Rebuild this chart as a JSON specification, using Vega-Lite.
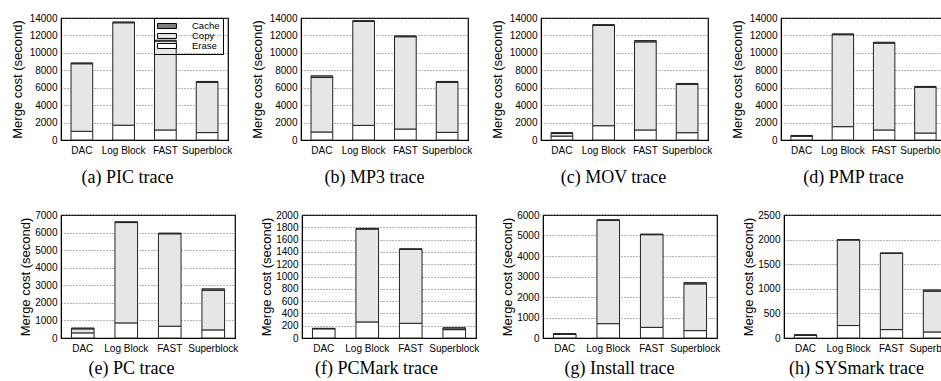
{
  "$schema": "https://vega.github.io/schema/vega-lite/v6.json",
  "padding": {"left": 10, "top": 12, "right": 0, "bottom": 0},
  "background": "white",
  "config": {
    "font": "Liberation Sans",
    "view": {"stroke": "black", "strokeWidth": 1.2},
    "axis": {"labelFontSize": 10, "labelColor": "black", "titleColor": "black", "titleFontWeight": "normal", "domainColor": "black", "ticks": false},
    "axisX": {"labelAngle": 0, "labelPadding": 5, "titleFont": "Liberation Serif", "titleFontSize": 18, "grid": false, "titleAlign": "center"},
    "axisY": {"labelPadding": 4, "titleFontSize": 13, "titlePadding": 5, "grid": true, "gridDash": [1, 2], "gridColor": "#666", "format": "d"},
    "bar": {"stroke": "#222", "strokeWidth": 1}
  },
  "datasets": {
    "d": [
      {"p": "PIC", "b": "DAC", "t": "Erase", "v": 1000}, {"p": "PIC", "b": "DAC", "t": "Copy", "v": 7750}, {"p": "PIC", "b": "DAC", "t": "Cache", "v": 100},
      {"p": "PIC", "b": "Log Block", "t": "Erase", "v": 1700}, {"p": "PIC", "b": "Log Block", "t": "Copy", "v": 11750}, {"p": "PIC", "b": "Log Block", "t": "Cache", "v": 100},
      {"p": "PIC", "b": "FAST", "t": "Erase", "v": 1150}, {"p": "PIC", "b": "FAST", "t": "Copy", "v": 10200}, {"p": "PIC", "b": "FAST", "t": "Cache", "v": 100},
      {"p": "PIC", "b": "Superblock", "t": "Erase", "v": 850}, {"p": "PIC", "b": "Superblock", "t": "Copy", "v": 5770}, {"p": "PIC", "b": "Superblock", "t": "Cache", "v": 100},
      {"p": "MP3", "b": "DAC", "t": "Erase", "v": 920}, {"p": "MP3", "b": "DAC", "t": "Copy", "v": 6250}, {"p": "MP3", "b": "DAC", "t": "Cache", "v": 200},
      {"p": "MP3", "b": "Log Block", "t": "Erase", "v": 1680}, {"p": "MP3", "b": "Log Block", "t": "Copy", "v": 11920}, {"p": "MP3", "b": "Log Block", "t": "Cache", "v": 100},
      {"p": "MP3", "b": "FAST", "t": "Erase", "v": 1260}, {"p": "MP3", "b": "FAST", "t": "Copy", "v": 10590}, {"p": "MP3", "b": "FAST", "t": "Cache", "v": 100},
      {"p": "MP3", "b": "Superblock", "t": "Erase", "v": 880}, {"p": "MP3", "b": "Superblock", "t": "Copy", "v": 5740}, {"p": "MP3", "b": "Superblock", "t": "Cache", "v": 100},
      {"p": "MOV", "b": "DAC", "t": "Erase", "v": 450}, {"p": "MOV", "b": "DAC", "t": "Copy", "v": 300}, {"p": "MOV", "b": "DAC", "t": "Cache", "v": 100},
      {"p": "MOV", "b": "Log Block", "t": "Erase", "v": 1640}, {"p": "MOV", "b": "Log Block", "t": "Copy", "v": 11500}, {"p": "MOV", "b": "Log Block", "t": "Cache", "v": 100},
      {"p": "MOV", "b": "FAST", "t": "Erase", "v": 1150}, {"p": "MOV", "b": "FAST", "t": "Copy", "v": 10110}, {"p": "MOV", "b": "FAST", "t": "Cache", "v": 150},
      {"p": "MOV", "b": "Superblock", "t": "Erase", "v": 840}, {"p": "MOV", "b": "Superblock", "t": "Copy", "v": 5550}, {"p": "MOV", "b": "Superblock", "t": "Cache", "v": 100},
      {"p": "PMP", "b": "DAC", "t": "Erase", "v": 450}, {"p": "PMP", "b": "DAC", "t": "Copy", "v": 20}, {"p": "PMP", "b": "DAC", "t": "Cache", "v": 50},
      {"p": "PMP", "b": "Log Block", "t": "Erase", "v": 1530}, {"p": "PMP", "b": "Log Block", "t": "Copy", "v": 10550}, {"p": "PMP", "b": "Log Block", "t": "Cache", "v": 100},
      {"p": "PMP", "b": "FAST", "t": "Erase", "v": 1150}, {"p": "PMP", "b": "FAST", "t": "Copy", "v": 9970}, {"p": "PMP", "b": "FAST", "t": "Cache", "v": 100},
      {"p": "PMP", "b": "Superblock", "t": "Erase", "v": 800}, {"p": "PMP", "b": "Superblock", "t": "Copy", "v": 5250}, {"p": "PMP", "b": "Superblock", "t": "Cache", "v": 100},
      {"p": "PC", "b": "DAC", "t": "Erase", "v": 290}, {"p": "PC", "b": "DAC", "t": "Copy", "v": 230}, {"p": "PC", "b": "DAC", "t": "Cache", "v": 50},
      {"p": "PC", "b": "Log Block", "t": "Erase", "v": 860}, {"p": "PC", "b": "Log Block", "t": "Copy", "v": 5710}, {"p": "PC", "b": "Log Block", "t": "Cache", "v": 50},
      {"p": "PC", "b": "FAST", "t": "Erase", "v": 670}, {"p": "PC", "b": "FAST", "t": "Copy", "v": 5260}, {"p": "PC", "b": "FAST", "t": "Cache", "v": 40},
      {"p": "PC", "b": "Superblock", "t": "Erase", "v": 460}, {"p": "PC", "b": "Superblock", "t": "Copy", "v": 2260}, {"p": "PC", "b": "Superblock", "t": "Cache", "v": 80},
      {"p": "PCMark", "b": "DAC", "t": "Erase", "v": 150}, {"p": "PCMark", "b": "DAC", "t": "Copy", "v": 3}, {"p": "PCMark", "b": "DAC", "t": "Cache", "v": 5},
      {"p": "PCMark", "b": "Log Block", "t": "Erase", "v": 261}, {"p": "PCMark", "b": "Log Block", "t": "Copy", "v": 1510}, {"p": "PCMark", "b": "Log Block", "t": "Cache", "v": 12},
      {"p": "PCMark", "b": "FAST", "t": "Erase", "v": 239}, {"p": "PCMark", "b": "FAST", "t": "Copy", "v": 1202}, {"p": "PCMark", "b": "FAST", "t": "Cache", "v": 10},
      {"p": "PCMark", "b": "Superblock", "t": "Erase", "v": 136}, {"p": "PCMark", "b": "Superblock", "t": "Copy", "v": 7}, {"p": "PCMark", "b": "Superblock", "t": "Cache", "v": 25},
      {"p": "Install", "b": "DAC", "t": "Erase", "v": 190}, {"p": "Install", "b": "DAC", "t": "Copy", "v": 5}, {"p": "Install", "b": "DAC", "t": "Cache", "v": 10},
      {"p": "Install", "b": "Log Block", "t": "Erase", "v": 700}, {"p": "Install", "b": "Log Block", "t": "Copy", "v": 5040}, {"p": "Install", "b": "Log Block", "t": "Cache", "v": 30},
      {"p": "Install", "b": "FAST", "t": "Erase", "v": 520}, {"p": "Install", "b": "FAST", "t": "Copy", "v": 4520}, {"p": "Install", "b": "FAST", "t": "Cache", "v": 30},
      {"p": "Install", "b": "Superblock", "t": "Erase", "v": 360}, {"p": "Install", "b": "Superblock", "t": "Copy", "v": 2280}, {"p": "Install", "b": "Superblock", "t": "Cache", "v": 60},
      {"p": "SYSmark", "b": "DAC", "t": "Erase", "v": 55}, {"p": "SYSmark", "b": "DAC", "t": "Copy", "v": 3}, {"p": "SYSmark", "b": "DAC", "t": "Cache", "v": 7},
      {"p": "SYSmark", "b": "Log Block", "t": "Erase", "v": 253}, {"p": "SYSmark", "b": "Log Block", "t": "Copy", "v": 1738}, {"p": "SYSmark", "b": "Log Block", "t": "Cache", "v": 10},
      {"p": "SYSmark", "b": "FAST", "t": "Erase", "v": 171}, {"p": "SYSmark", "b": "FAST", "t": "Copy", "v": 1550}, {"p": "SYSmark", "b": "FAST", "t": "Cache", "v": 7},
      {"p": "SYSmark", "b": "Superblock", "t": "Erase", "v": 123}, {"p": "SYSmark", "b": "Superblock", "t": "Copy", "v": 829}, {"p": "SYSmark", "b": "Superblock", "t": "Cache", "v": 25}
    ]
  },
  "data": {"name": "d"},
  "resolve": {"scale": {"y": "independent", "color": "independent"}, "legend": {"color": "independent"}},
  "spacing": 22,
  "vconcat": [
    {
      "spacing": 17,
      "resolve": {"scale": {"y": "independent", "color": "independent"}, "legend": {"color": "independent"}},
      "hconcat": [
        {
          "width": 167, "height": 122,
          "transform": [{"filter": "datum.p === 'PIC'"}],
          "mark": "bar",
          "encoding": {
            "x": {"field": "b", "type": "nominal", "sort": ["DAC", "Log Block", "FAST", "Superblock"], "scale": {"paddingInner": 0.48, "paddingOuter": 0.24}, "axis": {"title": "(a) PIC trace", "titleX": 66, "titlePadding": 13}},
            "y": {"field": "v", "type": "quantitative", "stack": "zero", "scale": {"domain": [0, 14000]}, "axis": {"title": "Merge cost (second)", "values": [0, 2000, 4000, 6000, 8000, 10000, 12000, 14000]}},
            "color": {"field": "t", "type": "nominal", "scale": {"domain": ["Cache", "Copy", "Erase"], "range": ["#808080", "#e6e6e6", "#ffffff"]},
              "legend": {"orient": "none", "legendX": 93, "legendY": 0, "title": null, "symbolType": "M-2.1,-0.55H2.1V0.55H-2.1Z", "symbolSize": 81, "symbolOffset": 5, "symbolStrokeColor": "black", "symbolStrokeWidth": 1, "symbolOpacity": 1, "labelFontSize": 9.5, "labelColor": "black", "strokeColor": "black", "padding": 3, "rowPadding": 0, "labelOffset": 20}},
            "order": {"field": "t", "sort": "descending"}
          }
        },
        {
          "width": 167, "height": 122,
          "transform": [{"filter": "datum.p === 'MP3'"}],
          "mark": "bar",
          "encoding": {
            "x": {"field": "b", "type": "nominal", "sort": ["DAC", "Log Block", "FAST", "Superblock"], "scale": {"paddingInner": 0.48, "paddingOuter": 0.24}, "axis": {"title": "(b) MP3 trace", "titleX": 73, "titlePadding": 13}},
            "y": {"field": "v", "type": "quantitative", "stack": "zero", "scale": {"domain": [0, 14000]}, "axis": {"title": "Merge cost (second)", "values": [0, 2000, 4000, 6000, 8000, 10000, 12000, 14000]}},
            "color": {"field": "t", "type": "nominal", "scale": {"domain": ["Cache", "Copy", "Erase"], "range": ["#808080", "#e6e6e6", "#ffffff"]}, "legend": null},
            "order": {"field": "t", "sort": "descending"}
          }
        },
        {
          "width": 167, "height": 122,
          "transform": [{"filter": "datum.p === 'MOV'"}],
          "mark": "bar",
          "encoding": {
            "x": {"field": "b", "type": "nominal", "sort": ["DAC", "Log Block", "FAST", "Superblock"], "scale": {"paddingInner": 0.48, "paddingOuter": 0.24}, "axis": {"title": "(c) MOV trace", "titleX": 72, "titlePadding": 13}},
            "y": {"field": "v", "type": "quantitative", "stack": "zero", "scale": {"domain": [0, 14000]}, "axis": {"title": "Merge cost (second)", "values": [0, 2000, 4000, 6000, 8000, 10000, 12000, 14000]}},
            "color": {"field": "t", "type": "nominal", "scale": {"domain": ["Cache", "Copy", "Erase"], "range": ["#808080", "#e6e6e6", "#ffffff"]}, "legend": null},
            "order": {"field": "t", "sort": "descending"}
          }
        },
        {
          "width": 165, "height": 122,
          "transform": [{"filter": "datum.p === 'PMP'"}],
          "mark": "bar",
          "encoding": {
            "x": {"field": "b", "type": "nominal", "sort": ["DAC", "Log Block", "FAST", "Superblock"], "scale": {"paddingInner": 0.48, "paddingOuter": 0.24}, "axis": {"title": "(d) PMP trace", "titleX": 72, "titlePadding": 13}},
            "y": {"field": "v", "type": "quantitative", "stack": "zero", "scale": {"domain": [0, 14000]}, "axis": {"title": "Merge cost (second)", "values": [0, 2000, 4000, 6000, 8000, 10000, 12000, 14000]}},
            "color": {"field": "t", "type": "nominal", "scale": {"domain": ["Cache", "Copy", "Erase"], "range": ["#808080", "#e6e6e6", "#ffffff"]}, "legend": null},
            "order": {"field": "t", "sort": "descending"}
          }
        }
      ]
    },
    {
      "spacing": 21,
      "resolve": {"scale": {"y": "independent", "color": "independent"}, "legend": {"color": "independent"}},
      "hconcat": [
        {
          "width": 174, "height": 123,
          "transform": [{"filter": "datum.p === 'PC'"}],
          "mark": "bar",
          "encoding": {
            "x": {"field": "b", "type": "nominal", "sort": ["DAC", "Log Block", "FAST", "Superblock"], "scale": {"paddingInner": 0.48, "paddingOuter": 0.24}, "axis": {"title": "(e) PC trace", "titleX": 70, "titlePadding": 6}},
            "y": {"field": "v", "type": "quantitative", "stack": "zero", "scale": {"domain": [0, 7000]}, "axis": {"title": "Merge cost (second)", "titlePadding": 2, "values": [0, 1000, 2000, 3000, 4000, 5000, 6000, 7000]}},
            "color": {"field": "t", "type": "nominal", "scale": {"domain": ["Cache", "Copy", "Erase"], "range": ["#808080", "#e6e6e6", "#ffffff"]}, "legend": null},
            "order": {"field": "t", "sort": "descending"}
          }
        },
        {
          "width": 174, "height": 123,
          "transform": [{"filter": "datum.p === 'PCMark'"}],
          "mark": "bar",
          "encoding": {
            "x": {"field": "b", "type": "nominal", "sort": ["DAC", "Log Block", "FAST", "Superblock"], "scale": {"paddingInner": 0.48, "paddingOuter": 0.24}, "axis": {"title": "(f) PCMark trace", "titleX": 74, "titlePadding": 6}},
            "y": {"field": "v", "type": "quantitative", "stack": "zero", "scale": {"domain": [0, 2000]}, "axis": {"title": "Merge cost (second)", "titlePadding": 2, "values": [0, 200, 400, 600, 800, 1000, 1200, 1400, 1600, 1800, 2000]}},
            "color": {"field": "t", "type": "nominal", "scale": {"domain": ["Cache", "Copy", "Erase"], "range": ["#808080", "#e6e6e6", "#ffffff"]}, "legend": null},
            "order": {"field": "t", "sort": "descending"}
          }
        },
        {
          "width": 174, "height": 123,
          "transform": [{"filter": "datum.p === 'Install'"}],
          "mark": "bar",
          "encoding": {
            "x": {"field": "b", "type": "nominal", "sort": ["DAC", "Log Block", "FAST", "Superblock"], "scale": {"paddingInner": 0.48, "paddingOuter": 0.24}, "axis": {"title": "(g) Install trace", "titleX": 76, "titlePadding": 6}},
            "y": {"field": "v", "type": "quantitative", "stack": "zero", "scale": {"domain": [0, 6000]}, "axis": {"title": "Merge cost (second)", "titlePadding": 2, "values": [0, 1000, 2000, 3000, 4000, 5000, 6000]}},
            "color": {"field": "t", "type": "nominal", "scale": {"domain": ["Cache", "Copy", "Erase"], "range": ["#808080", "#e6e6e6", "#ffffff"]}, "legend": null},
            "order": {"field": "t", "sort": "descending"}
          }
        },
        {
          "width": 172, "height": 123,
          "transform": [{"filter": "datum.p === 'SYSmark'"}],
          "mark": "bar",
          "encoding": {
            "x": {"field": "b", "type": "nominal", "sort": ["DAC", "Log Block", "FAST", "Superblock"], "scale": {"paddingInner": 0.48, "paddingOuter": 0.24}, "axis": {"title": "(h) SYSmark trace", "titleX": 72, "titlePadding": 6}},
            "y": {"field": "v", "type": "quantitative", "stack": "zero", "scale": {"domain": [0, 2500]}, "axis": {"title": "Merge cost (second)", "titlePadding": 2, "values": [0, 500, 1000, 1500, 2000, 2500]}},
            "color": {"field": "t", "type": "nominal", "scale": {"domain": ["Cache", "Copy", "Erase"], "range": ["#808080", "#e6e6e6", "#ffffff"]}, "legend": null},
            "order": {"field": "t", "sort": "descending"}
          }
        }
      ]
    }
  ]
}
